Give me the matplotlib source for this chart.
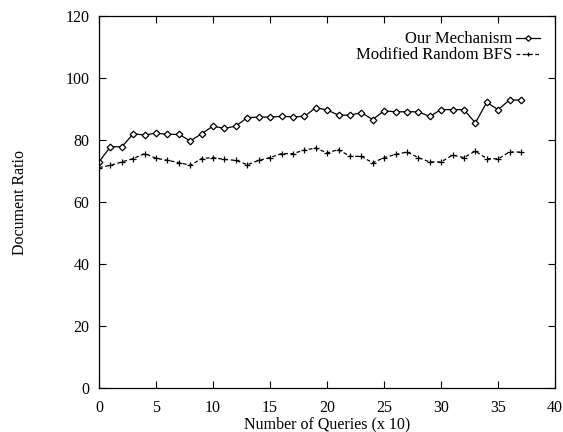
import matplotlib
matplotlib.use("Agg")
from matplotlib import pyplot as plt

# valeurs
queries = list(range(38))
our_mechanism = [73.1, 77.9, 77.9, 82.1, 81.7, 82.3, 81.9, 81.9, 79.8, 82.1,
                 84.6, 83.8, 84.6, 87.3, 87.5, 87.5, 87.7, 87.6, 87.7, 90.5,
                 89.8, 88.1, 88.1, 88.9, 86.7, 89.5, 89.2, 89.2, 89.2, 87.7,
                 89.9, 89.9, 89.9, 85.6, 92.2, 89.9, 93.0, 93.0]
random_bfs = [71.2, 71.9, 73.0, 74.1, 75.7, 74.2, 73.5, 72.8, 71.9, 74.1,
              74.4, 73.8, 73.5, 72.1, 73.5, 74.4, 75.7, 75.7, 76.8, 77.5,
              75.9, 77.0, 74.8, 74.8, 72.7, 74.4, 75.4, 76.2, 74.4, 73.0,
              73.0, 75.2, 74.4, 76.5, 74.1, 74.0, 76.2, 76.2]
labels = ["Our Mechanism", "Modified Random BFS"]

plt.rcParams['font.family'] = ['Liberation Serif', 'DejaVu Serif']
plt.rcParams['font.size'] = 11.5

fig = plt.figure(figsize=(5.63, 4.32), dpi=100)
ax = fig.add_axes([0.176, 0.102, 0.810, 0.860])

ax.plot(queries, our_mechanism, color="black", linewidth=0.9, linestyle="-",
        marker="D", markersize=3.4, markerfacecolor="white", markeredgewidth=0.9,
        label=labels[0])
ax.plot(queries, random_bfs, color="black", linewidth=0.9, linestyle=(0, (3, 2)),
        marker="+", markersize=5, markeredgewidth=0.9, label=labels[1])

ax.set_xlim(0, 40)
ax.set_ylim(0, 120)
ax.set_xticks(range(0, 41, 5))
ax.set_yticks(range(0, 121, 20))
ax.tick_params(direction="in", top=True, right=True, length=5, width=0.8, labelsize=11.5)
ax.tick_params(axis="x", pad=9)
ax.tick_params(axis="y", pad=7)
for s in ax.spines.values():
    s.set_linewidth(0.9)

ax.set_xlabel("Number of Queries (x 10)", fontsize=11.5, labelpad=0)
ax.set_ylabel("Document Ratio", fontsize=11.5, labelpad=27)

leg = ax.legend(loc="upper right", frameon=False, markerfirst=False,
                handlelength=1.45, handletextpad=0.2, labelspacing=0.0,
                borderpad=0.2, borderaxespad=0.7, fontsize=12)
for t in leg.get_texts():
    t.set_ha("right")
leg._legend_box.align = "right"
for h in leg.legend_handles:
    h.set_markersize(2.8)

plt.savefig("out.png", dpi=100)
